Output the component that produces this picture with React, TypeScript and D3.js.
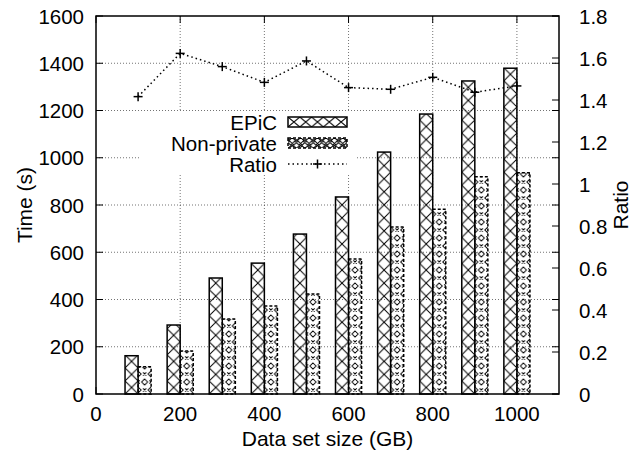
import React from "react";
import * as d3 from "d3";

const categories = [100, 200, 300, 400, 500, 600, 700, 800, 900, 1000];
const epic = [162, 292, 491, 554, 677, 834, 1024, 1185, 1325, 1379];
const nonPrivate = [115, 182, 317, 372, 423, 571, 707, 782, 920, 937];
const ratio = [1.416, 1.622, 1.559, 1.484, 1.586, 1.459, 1.451, 1.508, 1.437, 1.467];
const xTicks = [0, 200, 400, 600, 800, 1000];
const yTicks = [0, 200, 400, 600, 800, 1000, 1200, 1400, 1600];
const y2Ticks = [0, 0.2, 0.4, 0.6, 0.8, 1.0, 1.2, 1.4, 1.6, 1.8];
const legendItems = ["EPiC", "Non-private", "Ratio"];

const W = 644, H = 460;
const L = 96, R = 559, T = 16, B = 394;
const FONT = "'Liberation Sans', Arial, Helvetica, sans-serif";
const FS = 20.5;

export default function App() {
  const x = d3.scaleLinear().domain([0, 1100]).range([L, R]);
  const y = d3.scaleLinear().domain([0, 1600]).range([B, T]);
  const y2 = d3.scaleLinear().domain([0, 1.8]).range([B, T]);
  const bwUnits = 31;
  const bw = x(bwUnits) - x(0);
  const tick = 7;
  const line = d3.line<number>().x((d, i) => x(categories[i])).y((d) => y2(d));
  const gridStyle = { stroke: "#000", strokeOpacity: 0.55, strokeWidth: 1, strokeDasharray: "1,2" };
  const npH = 16;

  const plus = (cx: number, cy: number, k: string) => (
    <g key={k} stroke="#000" strokeWidth={1.5}>
      <line x1={cx - 4.5} x2={cx + 4.5} y1={cy} y2={cy} />
      <line x1={cx} x2={cx} y1={cy - 4.5} y2={cy + 4.5} />
    </g>
  );

  const npCell = (w: number, h: number) => {
    const d = 3, s = 1.6;
    const diamond = (cx: number, cy: number) => `M${cx},${cy - d}L${cx + d},${cy}L${cx},${cy + d}L${cx - d},${cy}Z`;
    const ex = (cx: number, cy: number) => `M${cx - s},${cy - s}L${cx + s},${cy + s}M${cx + s},${cy - s}L${cx - s},${cy + s}`;
    return (
      <>
        <path d={diamond(w / 2, h / 4) + diamond(0, (3 * h) / 4) + diamond(w, (3 * h) / 4)} fill="none" stroke="#000" strokeWidth={1} />
        <path d={ex(w / 2, (3 * h) / 4) + ex(0, h / 4) + ex(w, h / 4)} fill="none" stroke="#000" strokeWidth={1} />
      </>
    );
  };

  const legX1 = 288, legX2 = 347;
  const legRows = [122, 143, 164];

  return (
    <svg width={W} height={H} style={{ position: "absolute", left: 0, top: 0, background: "#fff" }} fontFamily={FONT} fontSize={FS}>
      <defs>
        {categories.map((c, i) => {
          const x0 = x(c - bwUnits);
          return (
            <pattern key={"pe" + i} id={"pe" + i} patternUnits="userSpaceOnUse" x={x0} y={B} width={bw} height={bw}>
              <path d={`M0,0L${bw},${bw}M${bw},0L0,${bw}`} stroke="#000" strokeWidth={1} fill="none" />
            </pattern>
          );
        })}
        {categories.map((c, i) => {
          const x0 = x(c);
          return (
            <pattern key={"pn" + i} id={"pn" + i} patternUnits="userSpaceOnUse" x={x0} y={B} width={bw} height={npH}>
              {npCell(bw, npH)}
            </pattern>
          );
        })}
        <pattern id="legE" patternUnits="userSpaceOnUse" x={legX1} y={legRows[0] - 5} width={(legX2 - legX1) / 5} height={10}>
          <path d={`M0,0L${(legX2 - legX1) / 5},10M${(legX2 - legX1) / 5},0L0,10`} stroke="#000" strokeWidth={1} fill="none" />
        </pattern>
        <pattern id="legN" patternUnits="userSpaceOnUse" x={legX1} y={legRows[1] - 5} width={(legX2 - legX1) / 7} height={10}>
          {npCell((legX2 - legX1) / 7, 10)}
        </pattern>
      </defs>

      {/* grid */}
      {yTicks.filter((t) => t > 0 && t < 1600).map((t) => (
        <line key={"gy" + t} x1={L} x2={R} y1={y(t)} y2={y(t)} {...gridStyle} />
      ))}
      {xTicks.filter((t) => t > 0).map((t) => (
        <line key={"gx" + t} x1={x(t)} x2={x(t)} y1={T} y2={B} {...gridStyle} />
      ))}

      {/* legend background */}
      <rect x={140} y={112} width={215} height={63} fill="#fff" />

      {/* bars */}
      {categories.map((c, i) => (
        <rect key={"e" + i} x={x(c - bwUnits)} y={y(epic[i])} width={bw} height={B - y(epic[i])} fill={`url(#pe${i})`} stroke="#000" strokeWidth={1.5} />
      ))}
      {categories.map((c, i) => (
        <rect key={"n" + i} x={x(c)} y={y(nonPrivate[i])} width={bw} height={B - y(nonPrivate[i])} fill={`url(#pn${i})`} stroke="#000" strokeWidth={1.5} strokeDasharray="3,2" />
      ))}

      {/* ratio line */}
      <path d={line(ratio) || ""} fill="none" stroke="#000" strokeWidth={1.5} strokeDasharray="1.5,3" />
      {ratio.map((r, i) => plus(x(categories[i]), y2(r), "p" + i))}

      {/* ticks */}
      {yTicks.map((t) => (
        <g key={"ty" + t} stroke="#000" strokeWidth={1}>
          <line x1={L} x2={L + tick} y1={y(t)} y2={y(t)} />
          <line x1={R} x2={R - tick} y1={y(t)} y2={y(t)} />
        </g>
      ))}
      {y2Ticks.map((t) => (
        <line key={"ty2" + t} x1={R} x2={R - tick} y1={y2(t)} y2={y2(t)} stroke="#000" strokeWidth={1} />
      ))}
      {xTicks.map((t) => (
        <g key={"tx" + t} stroke="#000" strokeWidth={1}>
          <line x1={x(t)} x2={x(t)} y1={B} y2={B - tick} />
          <line x1={x(t)} x2={x(t)} y1={T} y2={T + tick} />
        </g>
      ))}

      {/* frame */}
      <rect x={L} y={T} width={R - L} height={B - T} fill="none" stroke="#000" strokeWidth={1.5} />

      {/* tick labels */}
      {yTicks.map((t) => (
        <text key={"ly" + t} x={84} y={y(t)} textAnchor="end" dominantBaseline="central">{t}</text>
      ))}
      {y2Ticks.map((t) => (
        <text key={"ly2" + t} x={579} y={y2(t)} textAnchor="start" dominantBaseline="central">{String(+t.toFixed(1))}</text>
      ))}
      {xTicks.map((t) => (
        <text key={"lx" + t} x={x(t)} y={421} textAnchor="middle">{t}</text>
      ))}

      {/* axis titles */}
      <text x={(L + R) / 2} y={446} textAnchor="middle" fontSize={21}>Data set size (GB)</text>
      <text transform={`translate(24,${(T + B) / 2}) rotate(-90)`} textAnchor="middle" dominantBaseline="central" fontSize={21}>Time (s)</text>
      <text transform={`translate(620,${(T + B) / 2}) rotate(-90)`} textAnchor="middle" dominantBaseline="central" fontSize={21}>Ratio</text>

      {/* legend */}
      {legendItems.map((s, i) => (
        <text key={"lg" + i} x={277} y={legRows[i]} textAnchor="end" dominantBaseline="central">{s}</text>
      ))}
      <rect x={legX1} y={legRows[0] - 5} width={legX2 - legX1} height={10} fill="url(#legE)" stroke="#000" strokeWidth={1.5} />
      <rect x={legX1} y={legRows[1] - 5} width={legX2 - legX1} height={10} fill="url(#legN)" stroke="#000" strokeWidth={1.5} strokeDasharray="3,2" />
      <line x1={legX1} x2={legX2} y1={legRows[2]} y2={legRows[2]} stroke="#000" strokeWidth={1.5} strokeDasharray="1.5,3" />
      {plus((legX1 + legX2) / 2, legRows[2], "lp")}
    </svg>
  );
}
